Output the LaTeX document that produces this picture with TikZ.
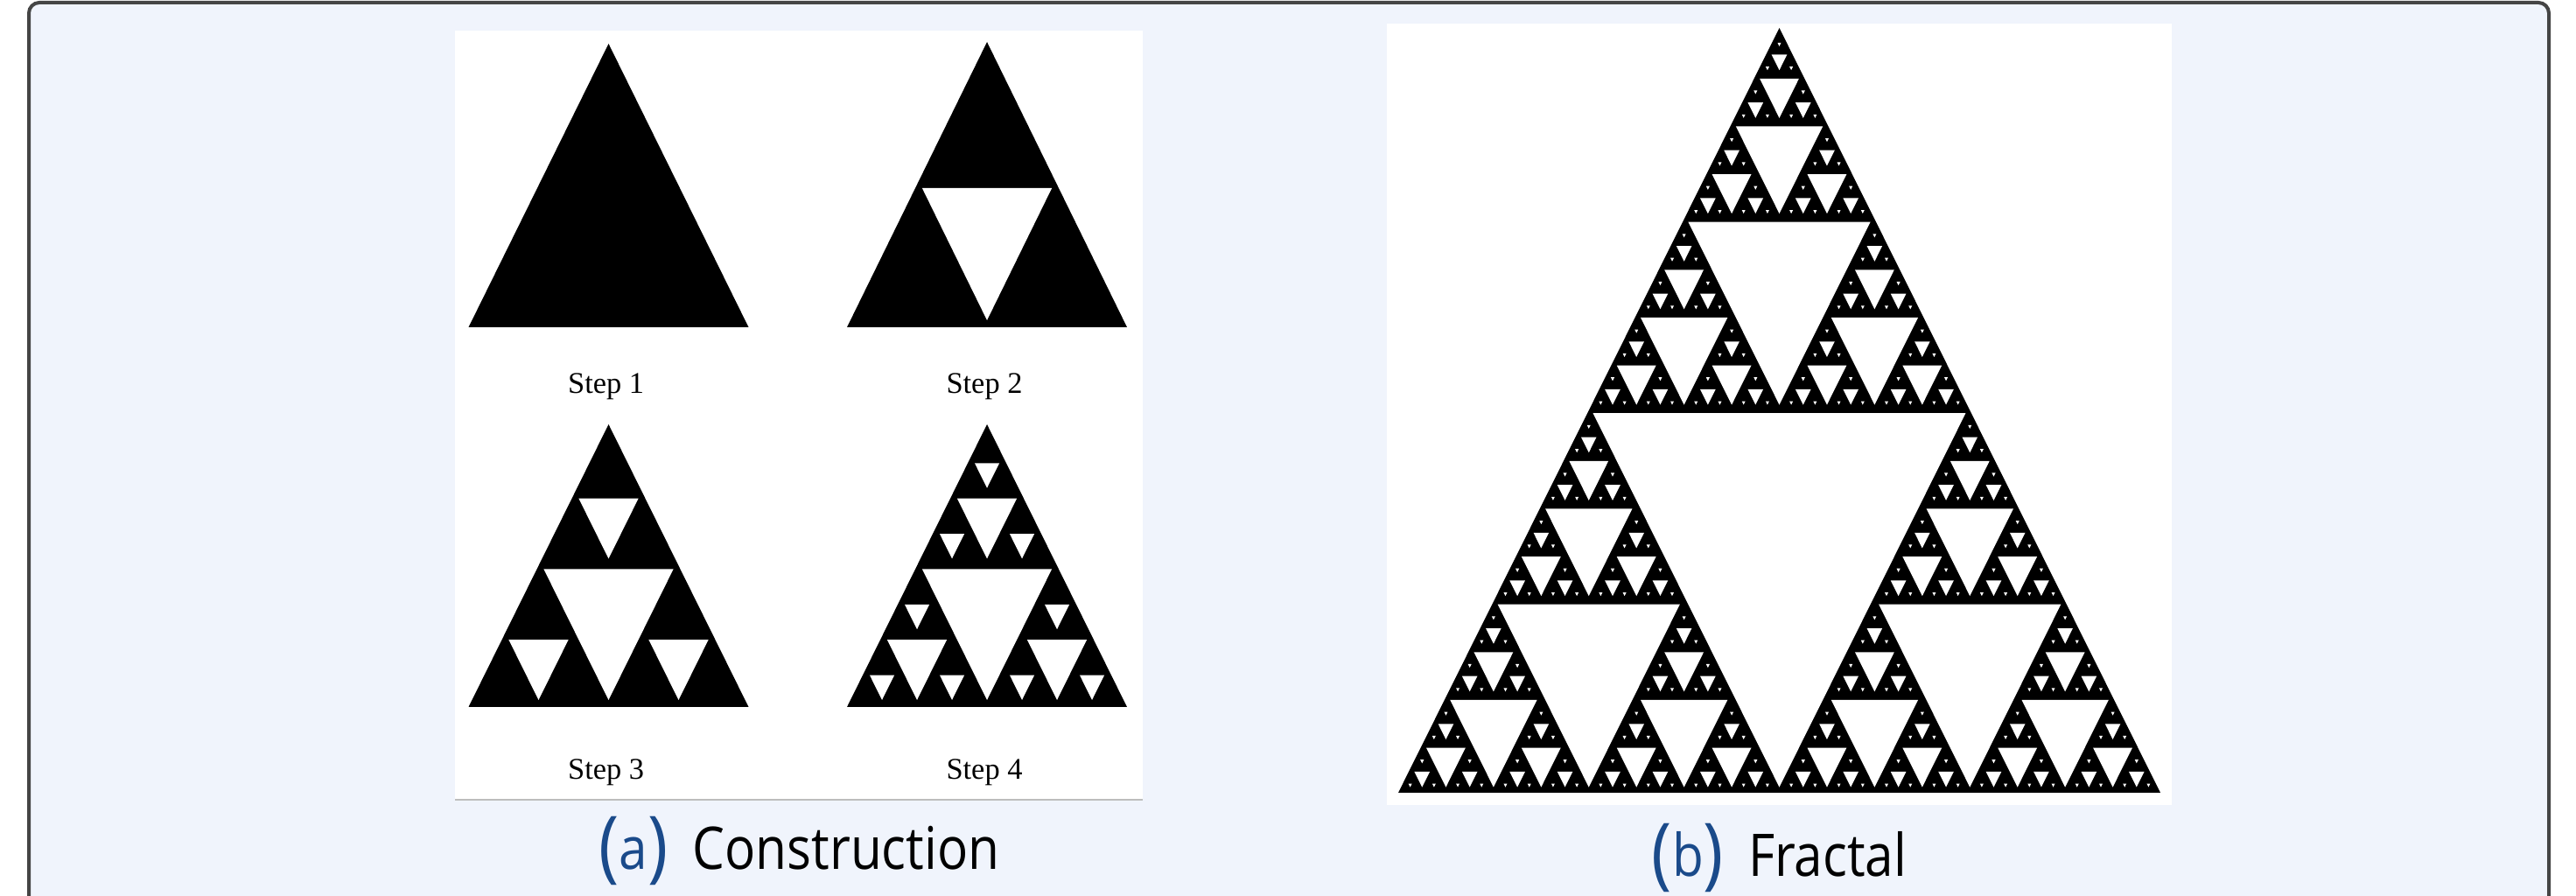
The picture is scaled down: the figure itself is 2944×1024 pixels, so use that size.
\documentclass[tikz,border=0pt]{standalone}
\usepackage{fontspec}
\newfontfamily\capfont[FakeStretch=0.87]{Open Sans}
\newfontfamily\stepfont{Liberation Serif}
\definecolor{framebg}{HTML}{F0F4FC}
\definecolor{framedraw}{HTML}{454545}
\definecolor{capblue}{HTML}{1A4A8A}
\definecolor{panelline}{HTML}{BDBDBD}
\newcommand\sinset{4}
\newcommand\sierp[7]{%
\begingroup
\pgfmathsetmacro\sAx{(#2+#4)/2}%
\pgfmathsetmacro\sAy{(#3+#5)/2}%
\pgfmathsetmacro\sBx{(#2+#6)/2}%
\pgfmathsetmacro\sBy{(#3+#7)/2}%
\pgfmathsetmacro\sCx{(#4+#6)/2}%
\pgfmathsetmacro\sCy{(#5+#7)/2}%
\pgfmathsetmacro\sGx{(\sAx+\sBx+\sCx)/3}%
\pgfmathsetmacro\sGy{(\sAy+\sBy+\sCy)/3}%
\pgfmathsetmacro\sF{max(0,1-3*\sinset/abs(\sCy-\sAy))}%
\fill[white] ({\sGx+\sF*(\sAx-\sGx)},{\sGy+\sF*(\sAy-\sGy)}) -- ({\sGx+\sF*(\sBx-\sGx)},{\sGy+\sF*(\sBy-\sGy)}) -- ({\sGx+\sF*(\sCx-\sGx)},{\sGy+\sF*(\sCy-\sGy)}) -- cycle;
\ifnum#1>1
\pgfmathtruncatemacro\sN{#1-1}%
\edef\sNext{\noexpand\sierp{\sN}{#2}{#3}{\sAx}{\sAy}{\sBx}{\sBy}\noexpand\sierp{\sN}{\sAx}{\sAy}{#4}{#5}{\sCx}{\sCy}\noexpand\sierp{\sN}{\sBx}{\sBy}{\sCx}{\sCy}{#6}{#7}}%
\sNext
\fi
\endgroup}
\newcommand\capparen[1]{{\fontsize{22.5pt}{24pt}\selectfont\raisebox{-1pt}{#1}}}
\begin{document}
\begin{tikzpicture}[x=0.25pt,y=-0.25pt,
  frame/.style={draw=framedraw,line width=1pt,fill=framebg,rounded corners=3pt},
  panel/.style={fill=white,draw=none},
  steplabel/.style={anchor=base,inner sep=0pt,font=\stepfont\fontsize{8.6pt}{10pt}\selectfont},
  caption/.style={anchor=base,inner sep=0pt,font=\capfont\fontsize{16.8pt}{20pt}\selectfont}]
\useasboundingbox (0,0) rectangle (2944,1024);
\clip (0,0) rectangle (2944,1024);
\fill[white] (0,0) rectangle (2944,1024);
\draw[frame] (33,3) rectangle (2913,1080);
% left panel
\fill[panel] (520,35) rectangle (1306,914);
\draw[panelline,line width=0.3pt] (520,914) -- (1306,914);
% step 1
\fill[black] (695.5,50) -- (535.5,374) -- (855.5,374) -- cycle;
% step 2
\fill[black] (1128,48) -- (968,374) -- (1288,374) -- cycle;
\sierp{1}{1128}{48}{968}{374}{1288}{374}
% step 3
\fill[black] (695.5,485) -- (535.5,808) -- (855.5,808) -- cycle;
\sierp{2}{695.5}{485}{535.5}{808}{855.5}{808}
% step 4
\fill[black] (1128,485) -- (968,808) -- (1288,808) -- cycle;
\sierp{3}{1128}{485}{968}{808}{1288}{808}
\node[steplabel] (s1) at (692.7,449.3) {Step 1};
\node[steplabel] (s2) at (1125,449.3) {Step 2};
\node[steplabel] (s3) at (692.7,891) {Step 3};
\node[steplabel] (s4) at (1125,891) {Step 4};
% right panel
\fill[panel] (1585,27) rectangle (2482,920);
\fill[black] (2033.5,32) -- (1598,906) -- (2469,906) -- cycle;
\renewcommand\sinset{3.2}
\sierp{6}{2033.5}{32}{1598}{906}{2469}{906}
% captions
\node[caption] (capa) at (913.5,994) {{\color{capblue}\capparen{(}a\capparen{)}}\hspace{7pt}Construction};
\node[caption] (capb) at (2033.5,1001.7) {{\color{capblue}\capparen{(}b\capparen{)}}\hspace{7pt}Fractal};
\end{tikzpicture}
\end{document}
